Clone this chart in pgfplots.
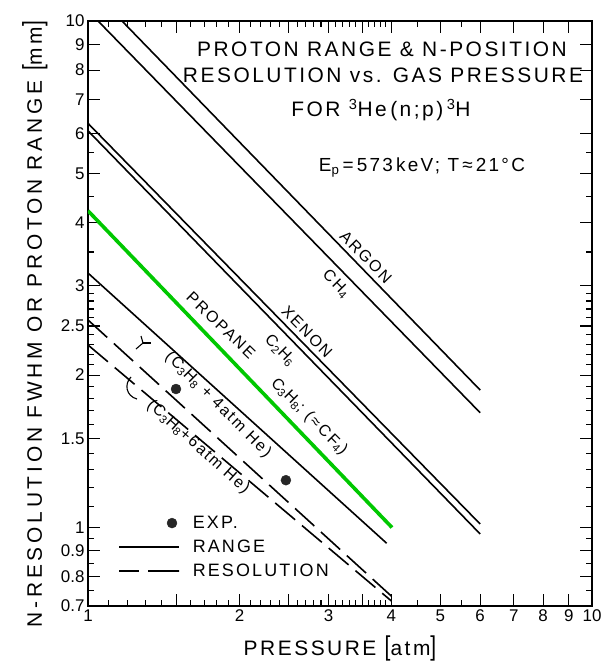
\documentclass[border=0pt]{standalone}
\usepackage{fontspec}
\setmainfont{Liberation Sans}[LetterSpace=12]
\newfontfamily\tickfont{Liberation Sans}
\newfontfamily\ylabfont{Liberation Sans}[LetterSpace=18]
\usepackage{graphicx}
\usepackage{pgfplots}
\pgfplotsset{compat=1.18}
\definecolor{lgreen}{RGB}{0,200,0}
\newcommand{\lbl}{\fontsize{16}{16}\selectfont}
\newcommand{\ttl}{\fontsize{21}{21}\selectfont}
\begin{document}
\begin{tikzpicture}
\begin{axis}[
  scale only axis, width=504bp, height=585bp,
  xmode=log, ymode=log,
  xmin=1, xmax=10, ymin=0.7, ymax=10,
  clip mode=individual,
  axis line style={line width=1.6bp},
  tick align=inside,
  major tick length=12bp, minor tick length=6bp,
  every tick/.style={black, line width=1.1bp},
  xtick={1,2,3,4,5,6,7,8,9,10},
  xticklabels={1,2,3,4,5,6,7,8,9,10},
  minor xtick={1.1,1.2,1.3,1.4,1.6,1.7,1.8,1.9,2.1,2.2,2.3,2.4,2.6,2.7,2.8,2.9,3.1,3.2,3.3,3.4,3.6,3.7,3.8,3.9,4.5,5.5},
  extra x ticks={1.5,2.5,3.5}, extra x tick labels={},
  ytick={0.7,0.8,0.9,1,1.5,2,2.5,3,4,5,6,7,8,9,10},
  yticklabels={0.7,0.8,0.9,1,1.5,2,2.5,3,4,5,6,7,8,9,10},
  minor ytick={0.75,0.85,0.95,1.1,1.2,1.3,1.4,1.6,1.7,1.8,1.9,2.1,2.2,2.3,2.4,2.6,2.7,2.8,2.9,3.5,4.5,5.5},
  tick label style={font=\tickfont\fontsize{17}{17}\selectfont},
  /pgf/number format/assume math mode=true,
  legend style={at={(rel axis cs:0.0536,0.159)}, anchor=north west, draw=none, fill=none,
    font=\fontsize{18}{18}\selectfont, nodes={inner sep=1pt}, column sep=12bp, row sep=8bp},
  legend cell align=left,
]
\coordinate (O) at (rel axis cs:0,0);
\addlegendimage{legend image code/.code={\fill[black!85] (53bp,0bp) circle (5bp);}}
\addlegendentry{EXP.}
\addlegendimage{legend image code/.code={\draw[black, line width=1.6bp] (0bp,0bp) -- (60bp,0bp);}}
\addlegendentry{RANGE}
\addlegendimage{legend image code/.code={\draw[black, line width=1.6bp, dash pattern=on 20bp off 9bp on 31bp off 0bp] (0bp,0bp) -- (60bp,0bp);}}
\addlegendentry{RESOLUTION}

% ARGON
\addplot[black, line width=1.6bp] coordinates {(1.168,10) (6,1.868)};
% CH4
\addplot[black, line width=1.6bp] coordinates {(1.047,10) (6,1.685)};
% XENON
\addplot[black, line width=1.6bp] coordinates {(1,6.28) (6,1.016)};
% C2H6
\addplot[black, line width=1.6bp] coordinates {(1,6.07) (6,0.971)};
% PROPANE
\addplot[black, line width=1.6bp] coordinates {(1,3.18) (3.914,0.931)};
% green
\addplot[lgreen, line width=3.6bp] coordinates {(1,4.22) (4.01,1.0)};
% resolution (C3H8 + 4 atm He)
\addplot[black, line width=1.6bp, dash pattern=on 26bp off 9bp] coordinates {(1,2.569) (4,0.732)};
% resolution (C3H8 + 6 atm He)
\addplot[black, line width=1.6bp, dash pattern=on 26bp off 9bp] coordinates {(1,2.293) (4,0.716)};
% experiment
\addplot[only marks, mark=*, mark size=5bp, black!85] coordinates {(1.495,1.877) (2.47,1.24)};

% titles
\node[anchor=base, font=\ttl] at (rel axis cs:0.5833,0.9385) {PROTON RANGE \& N-POSITION};
\node[anchor=base, font=\ttl] at (rel axis cs:0.5853,0.8957) {RESOLUTION vs. GAS PRESSURE};
\node[anchor=base, font=\ttl] at (rel axis cs:0.5813,0.8359) {FOR \textsuperscript{3}He\,(n;p)\,\textsuperscript{3}H};
\node[anchor=base, font=\fontsize{19}{19}\selectfont] at (rel axis cs:0.6627,0.7419) {E\textsubscript{p}\,=\,573\,keV; T\,≈\,21°C};

% curve labels
\node[rotate=-45.5, font=\lbl] at (rel axis cs:0.5516,0.5969) {ARGON};
\node[rotate=-45.5, font=\lbl] at (rel axis cs:0.4921,0.5507) {CH\textsubscript{4}};
\node[rotate=-45.5, font=\lbl] at (rel axis cs:0.4345,0.4687) {XENON};
\node[rotate=-45.5, font=\lbl] at (rel axis cs:0.3810,0.4362) {C\textsubscript{2}H\textsubscript{6}};
\node[rotate=-44, font=\lbl] at (rel axis cs:0.2639,0.4803) {PROPANE};
\node[rotate=-45, font=\lbl] at (rel axis cs:0.4385,0.3234) {C\textsubscript{3}H\textsubscript{8}; (≈\,CF\textsubscript{4})};
\node[rotate=-45, font=\lbl] at (rel axis cs:0.2580,0.3439) {(C\textsubscript{3}H\textsubscript{8} + 4atm He)};
\node[rotate=-42, font=\lbl] at (rel axis cs:0.2183,0.2715) {(C\textsubscript{3}H\textsubscript{8}+6atm He)};

% bracket marks
\draw[line width=1.1bp] (rel axis cs:0.0952,0.4393) -- (rel axis cs:0.1091,0.4496) -- (rel axis cs:0.1052,0.4615);
\draw[line width=1.1bp] (rel axis cs:0.1091,0.4496) -- (rel axis cs:0.1250,0.4496);
\draw[line width=1.1bp] (rel axis cs:0.0853,0.3915) .. controls (rel axis cs:0.0714,0.3795) and (rel axis cs:0.0754,0.359) .. (rel axis cs:0.0972,0.3538);

% axis labels
\node[anchor=base, font=\ttl] at (rel axis cs:0.5,-0.0838) {PRESSURE \scalebox{1}[1.3]{[}atm\scalebox{1}[1.3]{]}};
\node[anchor=base, rotate=90, font=\ylabfont\fontsize{21}{21}\selectfont] at (rel axis cs:-0.0913,0.482) {N-RESOLUTION FWHM OR PROTON RANGE \scalebox{1}[1.3]{[}mm\scalebox{1}[1.3]{]}};
\end{axis}
\pgfresetboundingbox
\path (O) ++(-88bp,-58bp) rectangle ++(607bp,664bp);
\end{tikzpicture}
\end{document}
